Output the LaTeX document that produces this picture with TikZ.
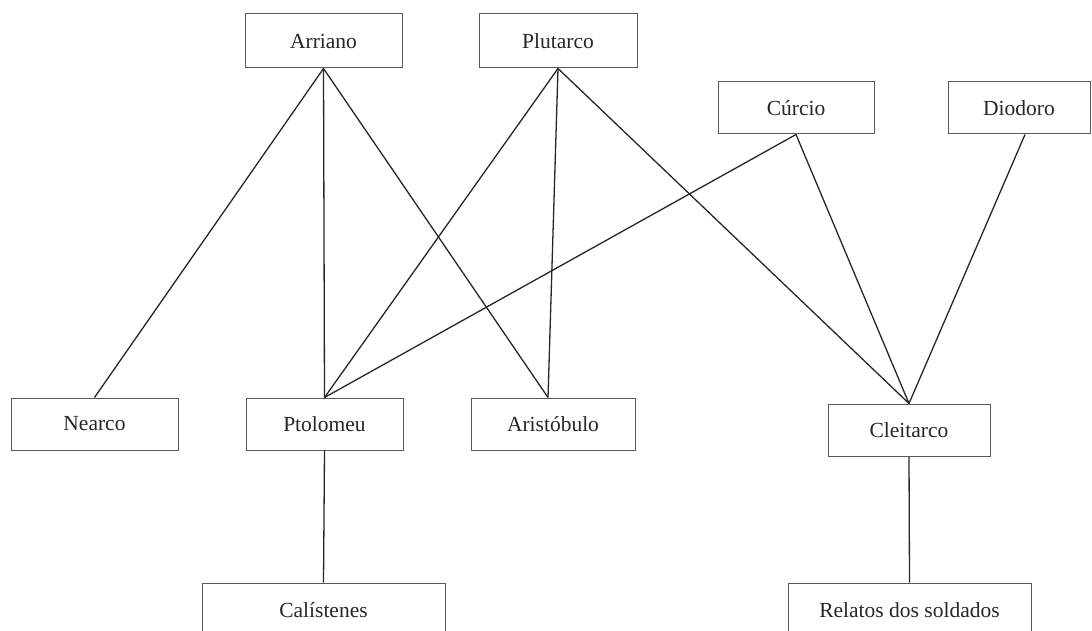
\documentclass[tikz,border=0pt]{standalone}
\usepackage{fontspec}
\setmainfont{Liberation Serif}
\begin{document}
\begin{tikzpicture}[x=1pt,y=-1pt,
  box/.style={draw=black!65,line width=1pt,fill=white,inner sep=0pt,
    font=\fontsize{21.5}{25}\selectfont,text=black!85},
  link/.style={draw=black!85,line width=1.3pt}]
\useasboundingbox (0,0) rectangle (1092,631);
\clip (0,0) rectangle (1092,631);
\node[box,minimum width=157pt,minimum height=54pt] (arriano) at (323.5,41) {Arriano};
\node[box,minimum width=158pt,minimum height=54pt] (plutarco) at (558,41) {Plutarco};
\node[box,minimum width=156pt,minimum height=52pt] (curcio) at (796,108) {Cúrcio};
\node[box,minimum width=142pt,minimum height=52pt] (diodoro) at (1019,108) {Diodoro};
\node[box,minimum width=167pt,minimum height=52pt] (nearco) at (94.5,424) {Nearco};
\node[box,minimum width=157pt,minimum height=52pt] (ptolomeu) at (324.5,424) {Ptolomeu};
\node[box,minimum width=164pt,minimum height=52pt] (aristobulo) at (553,424) {Aristóbulo};
\node[box,minimum width=162pt,minimum height=52pt] (cleitarco) at (909,430) {Cleitarco};
\node[box,minimum width=243pt,minimum height=54pt] (calistenes) at (323.5,610) {Calístenes};
\node[box,minimum width=243pt,minimum height=54pt] (relatos) at (909.5,610) {Relatos dos soldados};
\path[link] (arriano.south) -- (nearco.north);
\path[link] (arriano.south) -- (ptolomeu.north);
\path[link] (arriano.south) -- ([xshift=-5pt]aristobulo.north);
\path[link] (plutarco.south) -- (ptolomeu.north);
\path[link] (plutarco.south) -- ([xshift=-5pt]aristobulo.north);
\path[link] (plutarco.south) -- (cleitarco.north);
\path[link] (curcio.south) -- (ptolomeu.north);
\path[link] (curcio.south) -- (cleitarco.north);
\path[link] ([xshift=6pt]diodoro.south) -- (cleitarco.north);
\path[link] (ptolomeu.south) -- (calistenes.north);
\path[link] (cleitarco.south) -- (relatos.north);
\end{tikzpicture}
\end{document}
